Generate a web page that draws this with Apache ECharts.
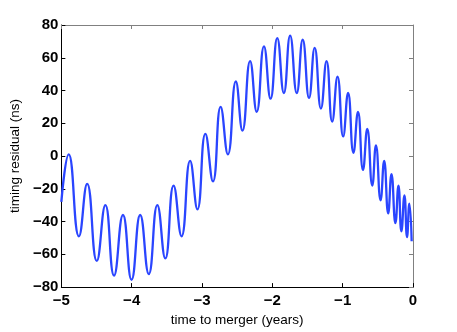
<!DOCTYPE html>
<html>
<head>
<meta charset="utf-8">
<script src="https://cdn.jsdelivr.net/npm/echarts@6/dist/echarts.min.js"></script>
<style>
  html, body { margin: 0; padding: 0; background: #fff; }
  #chart { width: 457px; height: 332px; }
</style>
</head>
<body>
<div id="chart"></div>
<script>
// turning points of the residual curve
var times = [
  -5.0, -4.896, -4.75, -4.633, -4.496, -4.374, -4.251, -4.124, -4.002, -3.879,
  -3.757, -3.635, -3.522, -3.404, -3.291, -3.169, -3.065, -2.952, -2.844, -2.735,
  -2.632, -2.519, -2.425, -2.316, -2.222, -2.119, -2.025, -1.930, -1.836, -1.747,
  -1.653, -1.568, -1.478, -1.398, -1.309, -1.229, -1.149, -1.073, -0.993, -0.923,
  -0.847, -0.782, -0.711, -0.650, -0.579, -0.527, -0.461, -0.410, -0.353, -0.306,
  -0.250, -0.207, -0.165, -0.122, -0.085, -0.052, -0.019
];
var residuals = [
  -28, 1, -49, -17, -64, -30, -73, -36, -75.5, -36,
  -72, -30, -62.5, -18, -49, -3, -32.5, 13.5, -15.5, 30,
  1, 45.5, 15.5, 58, 27, 67, 35, 72, 38.5, 73.5,
  38.5, 71, 35.5, 66, 29, 58, 21, 48.5, 12, 38.5,
  2, 27, -8.5, 16.5, -18, 6.5, -27, -3, -35, -11,
  -41, -18, -46, -24, -49.5, -29, -52
];
var xTicks = [-5, -4, -3, -2, -1, 0];
var yTicks = [-80, -60, -40, -20, 0, 20, 40, 60, 80];

var points = times.map(function (t, i) { return [t, residuals[i]]; });

function minusSign(v) {
    return String(v).replace('-', '\u2212');
}

var chart = echarts.init(document.getElementById('chart'), null, { renderer: 'canvas' });

var tickLabel = {
    fontFamily: 'Liberation Sans, Arial, sans-serif',
    fontWeight: 'bold',
    fontSize: 15,
    color: '#000'
};
var nameStyle = { fontFamily: 'Liberation Sans, Arial, sans-serif', fontSize: 13.5, color: '#000' };

chart.setOption({
    animation: false,
    grid: { left: 59, right: 44, top: 25, bottom: 37 },
    xAxis: [{
        type: 'value',
        min: xTicks[0],
        max: xTicks[xTicks.length - 1],
        interval: 1,
        name: 'time to merger (years)',
        nameLocation: 'middle',
        nameGap: 23,
        nameTextStyle: nameStyle,
        axisLine: { onZero: false, lineStyle: { color: '#000', width: 1 } },
        axisTick: { inside: true, length: 4, lineStyle: { color: '#000' } },
        axisLabel: Object.assign({ margin: 6, formatter: minusSign }, tickLabel),
        splitLine: { show: false }
    }, {
        type: 'value',
        position: 'top',
        min: xTicks[0],
        max: xTicks[xTicks.length - 1],
        interval: 1,
        axisLine: { show: true, onZero: false, lineStyle: { color: '#808080', width: 1 } },
        axisTick: { show: true, inside: true, length: 4, lineStyle: { color: '#808080' } },
        axisLabel: { show: false },
        splitLine: { show: false }
    }],
    yAxis: [{
        type: 'value',
        min: yTicks[0],
        max: yTicks[yTicks.length - 1],
        interval: 20,
        name: 'timing residual (ns)',
        nameLocation: 'middle',
        nameGap: 37,
        nameTextStyle: nameStyle,
        axisLine: { show: true, onZero: false, lineStyle: { color: '#000', width: 1 } },
        axisTick: { show: true, inside: true, length: 4, lineStyle: { color: '#000' } },
        axisLabel: Object.assign({ margin: 3, formatter: minusSign }, tickLabel),
        splitLine: { show: false }
    }, {
        type: 'value',
        position: 'right',
        min: yTicks[0],
        max: yTicks[yTicks.length - 1],
        interval: 20,
        axisLine: { show: true, onZero: false, lineStyle: { color: '#808080', width: 1 } },
        axisTick: { show: true, inside: true, length: 4, lineStyle: { color: '#808080' } },
        axisLabel: { show: false },
        splitLine: { show: false }
    }],
    series: [{
        type: 'line',
        data: points,
        smooth: 0.5,
        showSymbol: false,
        lineStyle: { color: '#2a45ff', width: 2.3 }
    }]
});
</script>
</body>
</html>
